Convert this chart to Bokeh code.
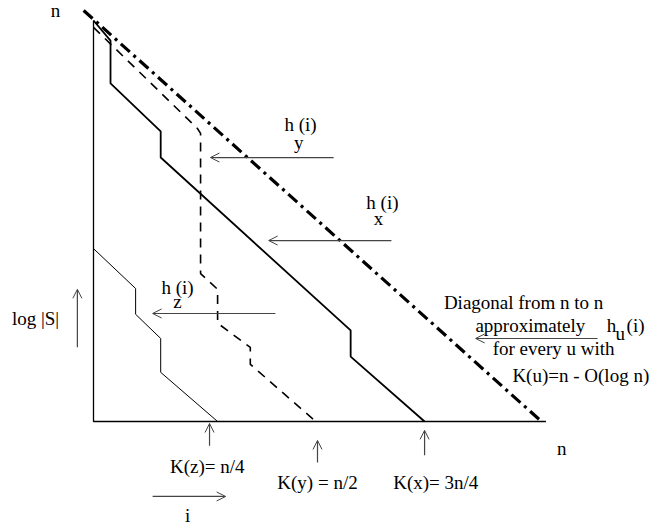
from bokeh.plotting import figure
from bokeh.models import Arrow, OpenHead, ColumnDataSource, Range1d
from bokeh.core.properties import value
from bokeh.embed import file_html
from bokeh.resources import INLINE

# ---- data (i and log|S| in units of n) ----
diag_i = [-0.022, 1.0]
diag_s = [1.02, 0.0]

hx_i = [0.0, 0.038, 0.038, 0.150, 0.150, 0.574, 0.574, 0.739]
hx_s = [0.995, 0.945, 0.839, 0.720, 0.655, 0.226, 0.161, 0.0]

hy_i = [0.0, 0.232, 0.239, 0.239, 0.277, 0.277, 0.350, 0.350, 0.496]
hy_s = [0.978, 0.727, 0.715, 0.367, 0.328, 0.244, 0.184, 0.142, 0.0]

hz_i = [0.0, 0.094, 0.094, 0.150, 0.150, 0.277]
hz_s = [0.429, 0.330, 0.266, 0.206, 0.122, 0.0]

axis_i = [0.0, 0.0, 1.01]
axis_s = [0.995, 0.0, 0.0]

# arrows: start -> end
arr_x0 = [0.536, 0.665, 0.406, 1.125, -0.036, 0.259, 0.500, 0.739, 0.132]
arr_y0 = [0.655, 0.449, 0.268, 0.206, 0.184, -0.060, -0.102, -0.084, -0.186]
arr_x1 = [0.261, 0.391, 0.132, 0.853, -0.036, 0.259, 0.500, 0.739, 0.295]
arr_y1 = [0.655, 0.449, 0.268, 0.206, 0.328, -0.005, -0.047, -0.022, -0.186]

# labels
lab_text = ["n", "h (i)", "y", "h (i)", "x", "h (i)", "z", "log |S|", "n",
            "K(z)= n/4", "K(y) = n/2", "K(x)= 3n/4", "i",
            "Diagonal from n to n", "approximately", "h", "u", "(i)",
            "for every u with"]
lab_x = [-0.085, 0.462, 0.458, 0.645, 0.636, 0.1875, 0.1875, -0.1295, 1.045,
         0.254, 0.500, 0.764, 0.210,
         0.960, 0.975, 1.156, 1.176, 1.210,
         1.027]
lab_y = [1.019, 0.737, 0.692, 0.543, 0.503, 0.332, 0.297, 0.255, -0.067,
         -0.112, -0.152, -0.152, -0.234,
         0.295, 0.238, 0.238, 0.218, 0.238,
         0.181]
left_text = ["K(u)=n - O(log n)"]
left_x = [0.935]
left_y = [0.114]

W, H = 653, 525
p = figure(width=W, height=H, output_backend="svg", toolbar_location=None,
           x_range=Range1d(-93 / 448, (W - 93) / 448),
           y_range=Range1d((421 - H) / 403, 421 / 403),
           min_border=0, outline_line_color=None)
p.xaxis.visible = False
p.yaxis.visible = False
p.xgrid.visible = False
p.ygrid.visible = False
p.background_fill_color = "white"
p.border_fill_color = "white"

p.line(axis_i, axis_s, line_color="black", line_width=1.3)
p.line(hz_i, hz_s, line_color="black", line_width=1)
p.line(hx_i, hx_s, line_color="black", line_width=1.8)
p.line(hy_i, hy_s, line_color="black", line_width=1.6, line_dash="9 7")
p.line(diag_i, diag_s, line_color="black", line_width=3.2, line_dash="12 5 3 5")

src = ColumnDataSource(dict(x0=arr_x0, y0=arr_y0, x1=arr_x1, y1=arr_y1))
p.add_layout(Arrow(x_start="x0", y_start="y0", x_end="x1", y_end="y1", source=src,
                   line_color="#444444", line_width=1.2,
                   end=OpenHead(size=9, line_color="#444444", line_width=1)))

p.text(lab_x, lab_y, text=lab_text, text_font=value("Liberation Serif"),
       text_font_size="19px", text_align="center", text_baseline="alphabetic",
       text_color="black")
p.text(left_x, left_y, text=left_text, text_font=value("Liberation Serif"),
       text_font_size="19px", text_align="left", text_baseline="alphabetic",
       text_color="black")

open("out.html", "w").write(file_html(p, INLINE))
